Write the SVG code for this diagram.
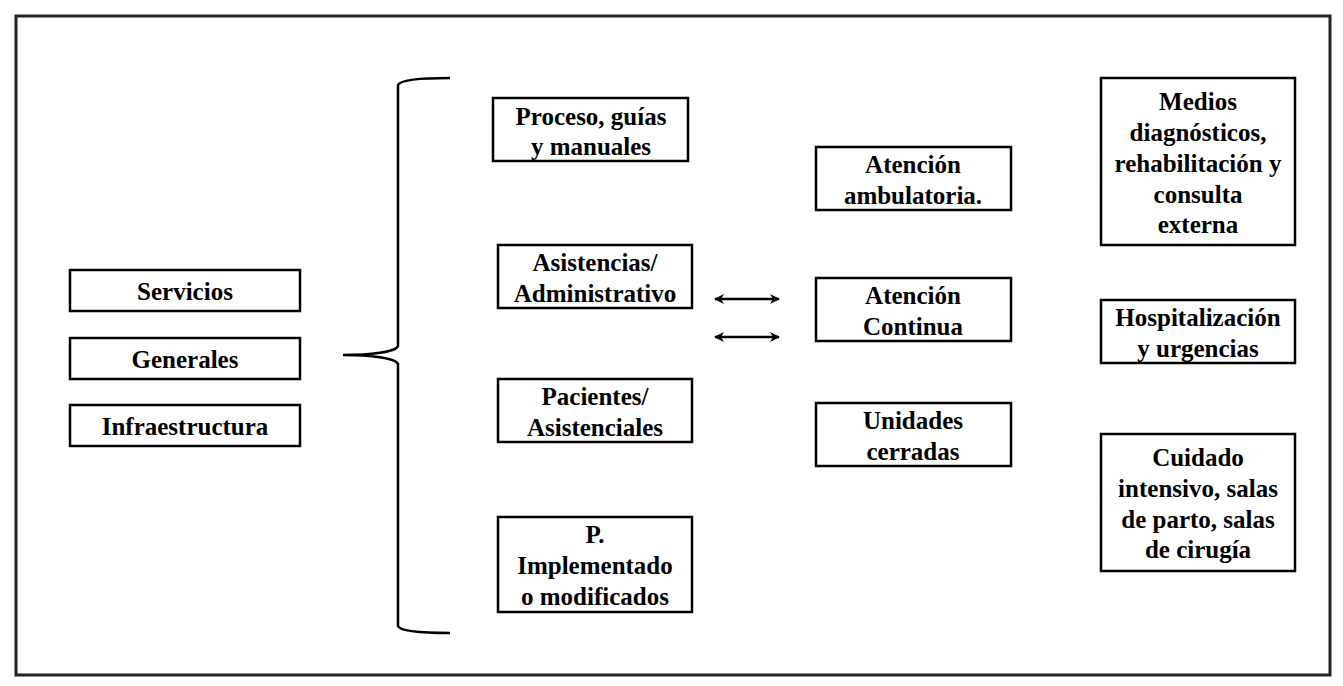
<svg xmlns="http://www.w3.org/2000/svg" width="1343" height="686" viewBox="0 0 1343 686">
<style>
.box{fill:#fff;stroke:#000;stroke-width:2.5}
.t{font-family:"Liberation Serif",serif;font-weight:bold;font-size:25px;text-anchor:middle;fill:#000}
.con{stroke:#000;stroke-width:2.5;fill:none}
</style>
<defs>
<marker id="ah" viewBox="0 0 10 10" refX="9" refY="5" markerWidth="4" markerHeight="4" orient="auto-start-reverse">
<path d="M0,0 L10,5 L0,10 L3,5 z" fill="#000"/>
</marker>
</defs>
<rect x="0" y="0" width="1343" height="686" fill="#fff"/>
<rect x="16" y="16" width="1314" height="659" fill="none" stroke="#222" stroke-width="3"/>
<g id="servicios"><rect class="box" x="70" y="270" width="230" height="41"/><text class="t" x="185" y="300">Servicios</text></g>
<g id="generales"><rect class="box" x="70" y="338" width="230" height="41"/><text class="t" x="185" y="368">Generales</text></g>
<g id="infraestructura"><rect class="box" x="70" y="405" width="230" height="41"/><text class="t" x="185" y="435">Infraestructura</text></g>
<g id="proceso"><rect class="box" x="493" y="98" width="195" height="63"/><text class="t" x="591" y="125">Proceso, guías</text><text class="t" x="591" y="155">y manuales</text></g>
<g id="asistencias"><rect class="box" x="498" y="245" width="194" height="63"/><text class="t" x="595" y="271">Asistencias/</text><text class="t" x="595" y="302">Administrativo</text></g>
<g id="pacientes"><rect class="box" x="498" y="379" width="194" height="63"/><text class="t" x="595" y="405">Pacientes/</text><text class="t" x="595" y="436">Asistenciales</text></g>
<g id="implementado"><rect class="box" x="498" y="517" width="194" height="95"/><text class="t" x="595" y="543">P.</text><text class="t" x="595" y="574">Implementado</text><text class="t" x="595" y="605">o modificados</text></g>
<g id="ambulatoria"><rect class="box" x="816" y="147" width="195" height="63"/><text class="t" x="913" y="173">Atención</text><text class="t" x="913" y="204">ambulatoria.</text></g>
<g id="continua"><rect class="box" x="816" y="278" width="195" height="63"/><text class="t" x="913" y="304">Atención</text><text class="t" x="913" y="335">Continua</text></g>
<g id="cerradas"><rect class="box" x="816" y="403" width="195" height="63"/><text class="t" x="913" y="429">Unidades</text><text class="t" x="913" y="460">cerradas</text></g>
<g id="medios"><rect class="box" x="1101" y="78" width="194" height="167"/><text class="t" x="1198" y="110">Medios</text><text class="t" x="1198" y="141">diagnósticos,</text><text class="t" x="1198" y="172">rehabilitación y</text><text class="t" x="1198" y="203">consulta</text><text class="t" x="1198" y="233">externa</text></g>
<g id="hospitalizacion"><rect class="box" x="1101" y="300" width="194" height="63"/><text class="t" x="1198" y="326">Hospitalización</text><text class="t" x="1198" y="357">y urgencias</text></g>
<g id="cuidado"><rect class="box" x="1101" y="434" width="194" height="137"/><text class="t" x="1198" y="466">Cuidado</text><text class="t" x="1198" y="497">intensivo, salas</text><text class="t" x="1198" y="528">de parto, salas</text><text class="t" x="1198" y="558">de cirugía</text></g>
<g id="connectors">
<path class="con" d="M450,78 C420,78 400,80 398,85 L398,346 C396,352 370,355 343,355 C370,355 396,358 398,364 L398,626 C400,631 420,633 450,633"/>
<line class="con" x1="715" y1="299" x2="779" y2="299" marker-start="url(#ah)" marker-end="url(#ah)"/>
<line class="con" x1="715" y1="337" x2="779" y2="337" marker-start="url(#ah)" marker-end="url(#ah)"/>
</g>
</svg>
